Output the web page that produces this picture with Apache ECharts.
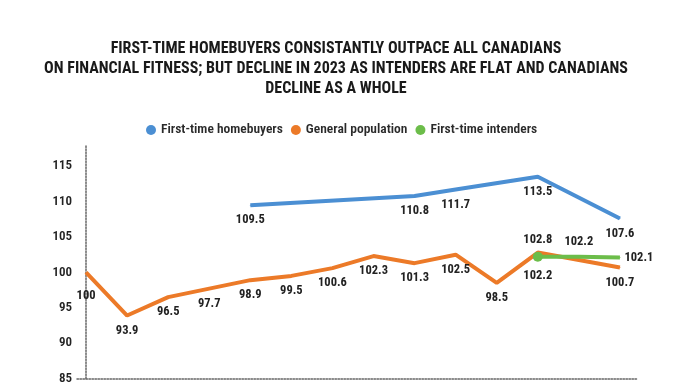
<!DOCTYPE html>
<html>
<head>
<meta charset="utf-8">
<script src="https://cdn.jsdelivr.net/npm/echarts@6/dist/echarts.min.js"></script>
<style>html,body{margin:0;padding:0;background:#fff}#c{width:696px;height:385px}</style>
</head>
<body>
<div id="c"></div>
<script>
var titleLines = ['FIRST-TIME HOMEBUYERS CONSISTANTLY OUTPACE ALL CANADIANS',
  'ON FINANCIAL FITNESS; BUT DECLINE IN 2023 AS INTENDERS ARE FLAT AND CANADIANS',
  'DECLINE AS A WHOLE'];
var categories = ['P1','P2','P3','P4','P5','P6','P7','P8','P9','P10','P11','P12','P13','P14'];
var homebuyers = [null,null,null,null,109.5,null,null,null,110.8,111.7,null,113.5,null,107.6];
var generalPop = [100,93.9,96.5,97.7,98.9,99.5,100.6,102.3,101.3,102.5,98.5,102.8,null,100.7];
var intenders  = [null,null,null,null,null,null,null,null,null,null,null,102.2,102.2,102.1];
var yTicks = [85,90,95,100,105,110,115];

var FONT = "Roboto, 'DejaVu Sans Condensed', sans-serif";
var labelStyle = {fontFamily: FONT, fontStyle: 'condensed', fontSize: 12.5, fontWeight: 'bold', color: '#222'};

function toPairs(arr, labelFn, symFn) {
  var out = [];
  arr.forEach(function (v, i) {
    if (v == null) { out.push([i, null]); return; }
    var item = {value: [i, v]};
    var lab = labelFn ? labelFn(i, v) : null;
    if (lab) item.label = lab;
    var s = symFn ? symFn(i) : null;
    if (s) { item.symbolSize = s.size; }
    out.push(item);
  });
  return out;
}

var chart = echarts.init(document.getElementById('c'), null, {renderer: 'canvas'});
chart.setOption({
  animation: false,
  backgroundColor: '#fff',
  graphic: [{
    type: 'text', x: 336, y: 39,
    style: {text: titleLines.join('\n'), textAlign: 'center',
      font: "condensed bold 16px Roboto, 'DejaVu Sans Condensed', sans-serif",
      fill: '#1a1a1a', lineHeight: 20}
  }],
  legend: {
    left: 141, top: 118, icon: 'circle', itemWidth: 10, itemHeight: 10, itemGap: 8,
    textStyle: {fontFamily: FONT, fontStyle: 'condensed', fontSize: 13.5, fontWeight: 600, color: '#2a2a2a', padding: [0,0,0,0]},
    data: ['First-time homebuyers','General population','First-time intenders']
  },
  grid: {left: 77, right: 58, top: 145, bottom: 6, containLabel: false},
  xAxis: {
    type: 'value', min: -0.22, max: 13.44,
    axisLine: {show: true, lineStyle: {type: 'dotted', color: '#666', width: 1.5}},
    axisTick: {show: false}, axisLabel: {show: false}, splitLine: {show: false}
  },
  yAxis: {
    type: 'value', min: yTicks[0], max: 118, interval: 5,
    axisLine: {show: true, lineStyle: {type: 'dotted', color: '#666', width: 1.5}},
    axisTick: {show: false}, splitLine: {show: false},
    axisLabel: {showMaxLabel: false, margin: 5, fontFamily: FONT, fontStyle: 'condensed', fontSize: 13, fontWeight: 600, color: '#222'}
  },
  series: [{
    name: 'First-time homebuyers', type: 'line', connectNulls: true, showSymbol: true,
    symbol: 'circle', symbolSize: 1, color: '#4b8fd3',
    lineStyle: {width: 4, color: '#4b8fd3'},
    label: Object.assign({show: true, position: 'bottom', distance: 8}, labelStyle),
    data: toPairs(homebuyers)
  }, {
    name: 'General population', type: 'line', connectNulls: true, showSymbol: true,
    symbol: 'circle', symbolSize: 1, color: '#ec7a28',
    lineStyle: {width: 4, color: '#ec7a28'},
    label: Object.assign({show: true, position: 'bottom', distance: 8}, labelStyle),
    data: toPairs(generalPop, function (i, v) {
      if (i === 11) return {position: 'top', distance: 6};
      if (i === 0) return {position: 'bottom', distance: 17};
      return null;
    })
  }, {
    name: 'First-time intenders', type: 'line', connectNulls: true, showSymbol: true,
    symbol: 'circle', symbolSize: 1, color: '#6cbd4a',
    lineStyle: {width: 4, color: '#6cbd4a'},
    label: Object.assign({show: true, position: 'bottom', distance: 8}, labelStyle),
    data: toPairs(intenders, function (i, v) {
      if (i === 12) return {position: 'top', distance: 8};
      if (i === 13) return {position: 'right', distance: 4};
      return null;
    }, function (i) {
      if (i === 11) return {size: 10};
      return null;
    })
  }]
});
</script>
</body>
</html>
